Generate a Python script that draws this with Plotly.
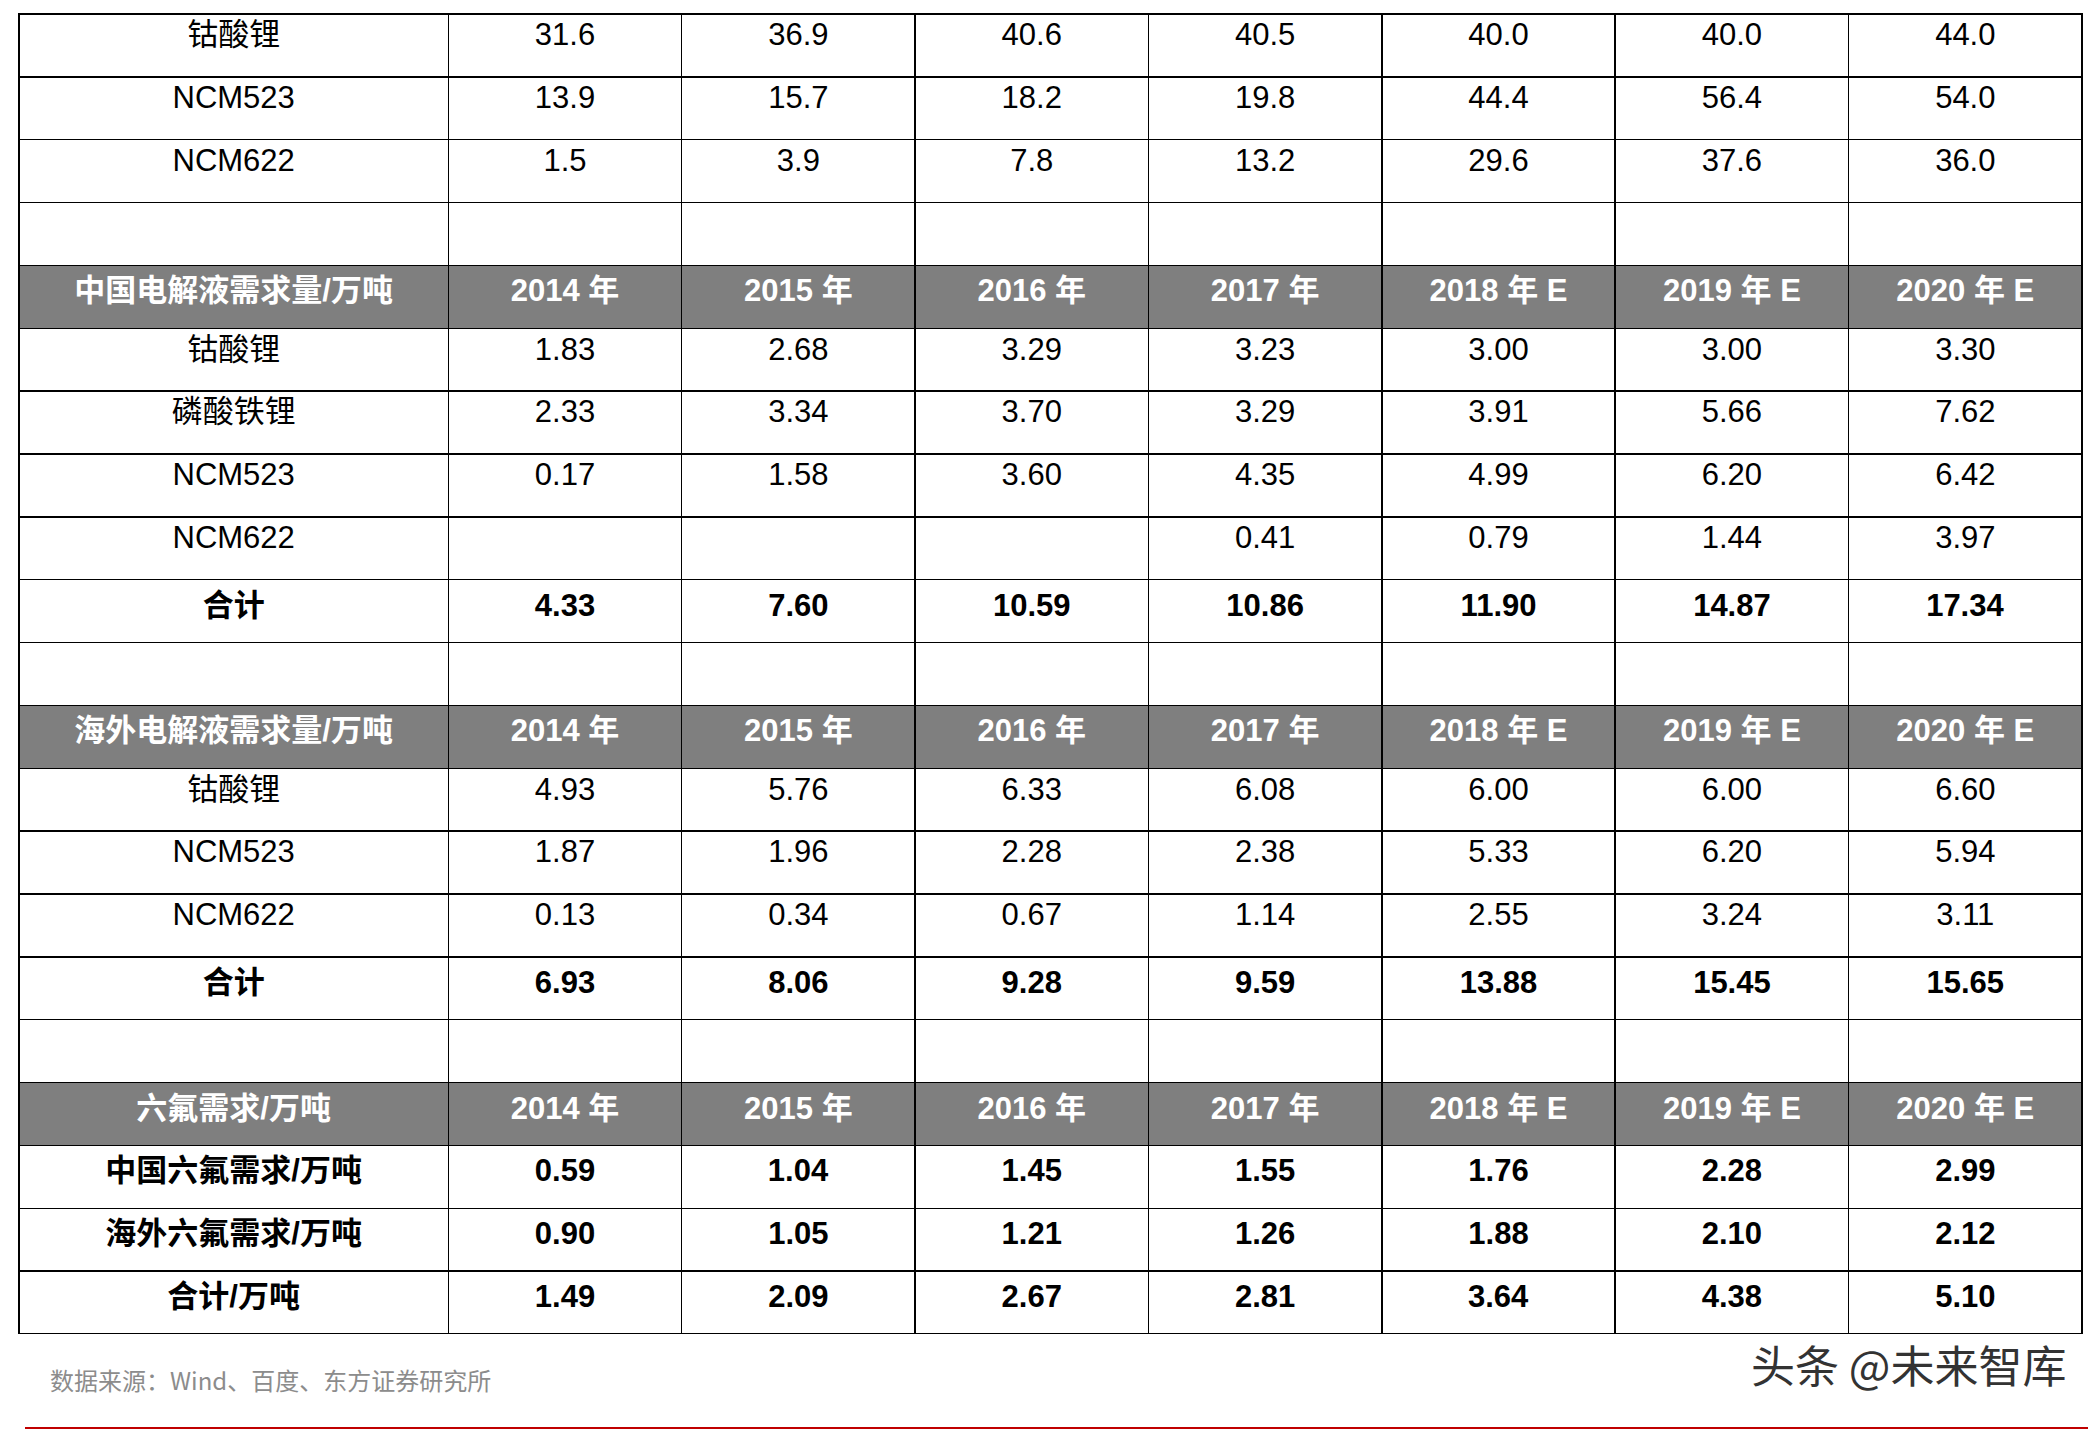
import plotly.graph_objects as go

years = ["2014 年", "2015 年", "2016 年", "2017 年", "2018 年 E", "2019 年 E", "2020 年 E"]

# 正极材料需求（表格上半部分截断）
top_labels = ["钴酸锂", "NCM523", "NCM622"]
top_values = [
    ["31.6", "36.9", "40.6", "40.5", "40.0", "40.0", "44.0"],
    ["13.9", "15.7", "18.2", "19.8", "44.4", "56.4", "54.0"],
    ["1.5", "3.9", "7.8", "13.2", "29.6", "37.6", "36.0"],
]

cn_title = "中国电解液需求量/万吨"
cn_labels = ["钴酸锂", "磷酸铁锂", "NCM523", "NCM622"]
cn_values = [
    ["1.83", "2.68", "3.29", "3.23", "3.00", "3.00", "3.30"],
    ["2.33", "3.34", "3.70", "3.29", "3.91", "5.66", "7.62"],
    ["0.17", "1.58", "3.60", "4.35", "4.99", "6.20", "6.42"],
    ["", "", "", "0.41", "0.79", "1.44", "3.97"],
]
cn_total = ["4.33", "7.60", "10.59", "10.86", "11.90", "14.87", "17.34"]

os_title = "海外电解液需求量/万吨"
os_labels = ["钴酸锂", "NCM523", "NCM622"]
os_values = [
    ["4.93", "5.76", "6.33", "6.08", "6.00", "6.00", "6.60"],
    ["1.87", "1.96", "2.28", "2.38", "5.33", "6.20", "5.94"],
    ["0.13", "0.34", "0.67", "1.14", "2.55", "3.24", "3.11"],
]
os_total = ["6.93", "8.06", "9.28", "9.59", "13.88", "15.45", "15.65"]

lipf_title = "六氟需求/万吨"
lipf_labels = ["中国六氟需求/万吨", "海外六氟需求/万吨", "合计/万吨"]
lipf_values = [
    ["0.59", "1.04", "1.45", "1.55", "1.76", "2.28", "2.99"],
    ["0.90", "1.05", "1.21", "1.26", "1.88", "2.10", "2.12"],
    ["1.49", "2.09", "2.67", "2.81", "3.64", "4.38", "5.10"],
]

rows = []  # (cells, kind)
for lab, v in zip(top_labels, top_values):
    rows.append(([lab] + v, "n"))
rows.append(([""] * 8, "n"))
rows.append(([cn_title] + years, "h"))
for lab, v in zip(cn_labels, cn_values):
    rows.append(([lab] + v, "n"))
rows.append((["合计"] + cn_total, "b"))
rows.append(([""] * 8, "n"))
rows.append(([os_title] + years, "h"))
for lab, v in zip(os_labels, os_values):
    rows.append(([lab] + v, "n"))
rows.append((["合计"] + os_total, "b"))
rows.append(([""] * 8, "n"))
rows.append(([lipf_title] + years, "h"))
for lab, v in zip(lipf_labels, lipf_values):
    rows.append(([lab] + v, "b"))

cols, fills, fcols = [], [], []
for c in range(8):
    col, fl, fc = [], [], []
    for cells, kind in rows:
        t = cells[c]
        if kind == "n":
            col.append(t)
        else:
            col.append("<b>" + t + "</b>" if t else "")
        fl.append("#7f7f7f" if kind == "h" else "white")
        fc.append("white" if kind == "h" else "black")
    cols.append(col)
    fills.append(fl)
    fcols.append(fc)

H, W = 1434, 2100
top, bottom = 6, 1326
rh = (bottom - top) / len(rows)

fig = go.Figure(go.Table(
    domain=dict(x=[11 / W, 2074 / W], y=[1 - bottom / H, 1 - top / H]),
    columnwidth=[321] + [174.5] * 7,
    header=dict(values=[""] * 8, height=0, line=dict(width=0), fill_color="white"),
    cells=dict(
        values=cols,
        fill_color=fills,
        font=dict(color=fcols, size=31, family="Liberation Sans, Noto Sans CJK SC"),
        align="center",
        height=rh,
        line=dict(color="black", width=1.5),
    ),
))

fig.add_annotation(x=40 / W, y=1 - 1391 / H, xref="paper", yref="paper", xanchor="left",
                   text="数据来源：Wind、百度、东方证券研究所", showarrow=False,
                   font=dict(size=24, color="#8c8c8c", family="Noto Sans CJK SC"))
fig.add_annotation(x=2060 / W, y=1 - 1390 / H, xref="paper", yref="paper", xanchor="right",
                   text="头条 @未来智库", showarrow=False,
                   font=dict(size=44, color="#333333", family="Noto Sans CJK SC"))
fig.add_shape(type="line", xref="paper", yref="paper", x0=17 / W, x1=2080 / W,
              y0=1 - 1420 / H, y1=1 - 1420 / H, line=dict(color="#c00000", width=2))

fig.update_layout(width=W, height=H, margin=dict(l=0, r=0, t=0, b=0),
                  paper_bgcolor="white")
fig.write_html("out.html")
